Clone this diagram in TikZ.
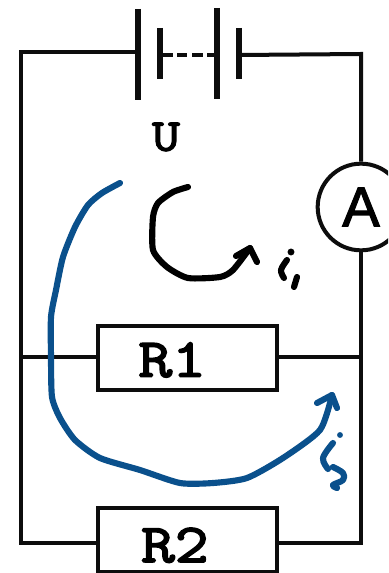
\documentclass[tikz,border=0pt]{standalone}
\usepackage{fontspec}
\newfontfamily\sansf{Liberation Sans}[FakeBold=2]
\newfontfamily\cour{Latin Modern Mono}[FakeStretch=1.2,FakeBold=3]
\definecolor{penblue}{RGB}{10,80,140}
\newcommand{\reslabel}[3]{\raisebox{-#2}[0pt][0pt]{\makebox[0pt]{\hspace{-#3}#1}}}
\tikzset{
  wire/.style={line width=3pt, black!95},
  plate/.style={line width=4.6pt, black!95},
  res/.style={draw=black!95, line width=3pt, fill=white, minimum width=134pt, minimum height=48pt, inner sep=0pt, font=\cour\fontsize{41}{41}\selectfont},
  meter/.style={circle, draw=black!95, line width=3pt, fill=white, minimum size=65pt, inner sep=0pt, font=\sansf\fontsize{42}{42}\selectfont},
  pen/.style={line width=4.6pt, line cap=round, line join=round},
  penb/.style={pen, penblue},
  penk/.style={pen, black}
}
\begin{document}
\begin{tikzpicture}[x=0.75pt,y=-0.75pt]
\useasboundingbox (0,0) rectangle (388,573);
\clip (0,0) rectangle (388,573);
\fill[white] (0,0) rectangle (388,573);
% corners and junctions
\coordinate (tl) at (21,52);
\coordinate (tr) at (361,54);
\coordinate (bl) at (21,543);
\coordinate (br) at (361,543);
\coordinate (ml) at (21,357);
\coordinate (mr) at (361,357);
% battery plates
\coordinate (p1a) at (138,9);   \coordinate (p1b) at (138,100);
\coordinate (p2a) at (160,28);  \coordinate (p2b) at (160,79);
\coordinate (p3a) at (217,8);   \coordinate (p3b) at (217,99);
\coordinate (p4a) at (239,28);  \coordinate (p4b) at (239,79);
\coordinate (w1) at (138,52);
\coordinate (w2) at (160,55);
\coordinate (w3) at (217,55);
\coordinate (w4) at (239,55);
% components
\node[meter] (A) at (361,207) {A};
\node[res] (R1) at (187.5,358) {\reslabel{R1}{14pt}{23pt}};
\node[res] (R2) at (187.5,540) {\reslabel{R2}{16.5pt}{19pt}};
\node[font=\cour\fontsize{34}{34}\selectfont] (U) at (166,137) {U};
% wires
\draw[wire, line join=miter] (w1) -- (tl) -- (bl) -- (R2.west |- bl);
\draw[wire, line join=miter] (w4) -- (tr) -- (A.north);
\draw[wire, line join=miter] (R2.east |- br) -- (br) -- (A.south);
\draw[wire] (ml) -- (R1.west |- ml);
\draw[wire] (R1.east |- mr) -- (mr);
\draw[wire, dash pattern=on 9.75pt off 3pt on 7.5pt off 3.75pt on 8.25pt off 3pt on 8pt] (w2) -- (w3);
% plates
\draw[plate] (p1a) -- (p1b);
\draw[plate] (p2a) -- (p2b);
\draw[plate] (p3a) -- (p3b);
\draw[plate] (p4a) -- (p4b);
% hand drawn: i1
\draw[penk] plot[smooth, tension=0.4] coordinates {(188,187) (173,192) (158,203) (153,217) (153,250) (167,267) (188,278) (220,277) (233,270) (250,248)};
\draw[penk] (236,256) -- (250,248) -- (257,262);
\fill (291,252) circle (2.6pt);
\draw[penk] plot[smooth, tension=0.6] coordinates {(287,260) (281,270) (284,278)};
\draw[penk] (297,277) -- (294,287);
% hand drawn: i2
\draw[penb] plot[smooth, tension=0.4] coordinates {(120,183) (102,193) (88,205) (75,227) (63,257) (56,290) (51,317) (51,357) (52,397) (60,418) (75,440) (100,458) (140,470) (180,483) (213,483) (247,478) (283,458) (320,430) (332,395)};
\draw[penb] (317,403) -- (332,395) -- (337,408);
\fill[penblue] (340,435) circle (2.2pt);
\draw[penb] plot[smooth, tension=0.6] coordinates {(333,443) (323,458) (328,469)};
\draw[penb] plot[smooth, tension=0.6] coordinates {(333,467) (343,473) (343,480) (333,485) (337,488)};
\end{tikzpicture}
\end{document}
